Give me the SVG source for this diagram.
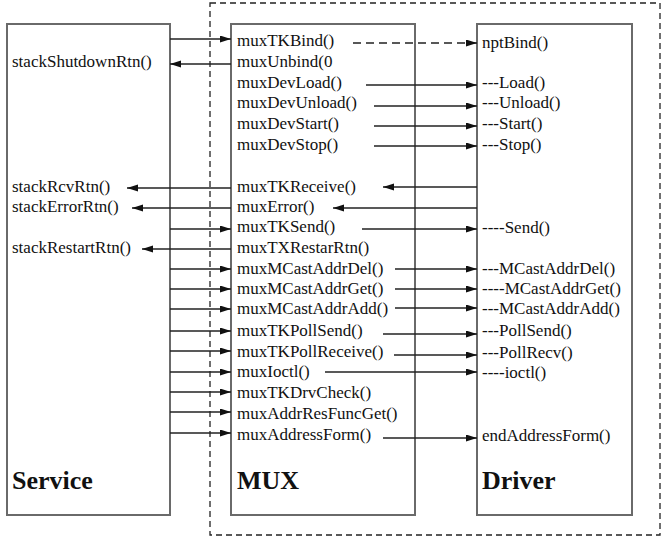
<svg xmlns="http://www.w3.org/2000/svg" width="665" height="544" viewBox="0 0 665 544">
<style>
.box{fill:#fff;stroke:#6a6a6a;stroke-width:2}
.frame{fill:none;stroke:#222;stroke-width:1.3;stroke-dasharray:6,4}
.t{font-family:"Liberation Serif","Times New Roman",serif;font-size:17px;fill:#111}
.b{font-family:"Liberation Serif","Times New Roman",serif;font-size:26px;font-weight:bold;fill:#111}
.c line{stroke:#222;stroke-width:1.3;marker-end:url(#ah)}
.c line.d{stroke-dasharray:8,5}
</style>
<defs>
<marker id="ah" markerUnits="userSpaceOnUse" markerWidth="12" markerHeight="8" refX="11" refY="3.5" orient="auto">
<path d="M0,0 L11,3.5 L0,7 z" fill="#111"/>
</marker>
</defs>
<rect width="665" height="544" fill="#fff"/>
<rect id="frame" class="frame" x="210" y="3" width="450" height="532"/>
<g id="service">
<rect class="box" x="7" y="24" width="163" height="491"/>
<text class="t" x="12" y="67">stackShutdownRtn()</text>
<text class="t" x="12" y="192">stackRcvRtn()</text>
<text class="t" x="12" y="212">stackErrorRtn()</text>
<text class="t" x="12" y="253">stackRestartRtn()</text>
<text class="b" x="12" y="489">Service</text>
</g>
<g id="mux">
<rect class="box" x="231" y="24" width="184" height="491"/>
<text class="t" x="237" y="46">muxTKBind()</text>
<text class="t" x="237" y="67">muxUnbind(0</text>
<text class="t" x="237" y="88">muxDevLoad()</text>
<text class="t" x="237" y="108">muxDevUnload()</text>
<text class="t" x="237" y="129">muxDevStart()</text>
<text class="t" x="237" y="150">muxDevStop()</text>
<text class="t" x="237" y="192">muxTKReceive()</text>
<text class="t" x="237" y="212">muxError()</text>
<text class="t" x="237" y="232">muxTKSend()</text>
<text class="t" x="237" y="253">muxTXRestarRtn()</text>
<text class="t" x="237" y="274">muxMCastAddrDel()</text>
<text class="t" x="237" y="294">muxMCastAddrGet()</text>
<text class="t" x="237" y="314">muxMCastAddrAdd()</text>
<text class="t" x="237" y="336">muxTKPollSend()</text>
<text class="t" x="237" y="357">muxTKPollReceive()</text>
<text class="t" x="237" y="377">muxIoctl()</text>
<text class="t" x="237" y="398">muxTKDrvCheck()</text>
<text class="t" x="237" y="419">muxAddrResFuncGet()</text>
<text class="t" x="237" y="440">muxAddressForm()</text>
<text class="b" x="237" y="489">MUX</text>
</g>
<g id="driver">
<rect class="box" x="477" y="24" width="155" height="491"/>
<text class="t" x="482" y="48">nptBind()</text>
<text class="t" x="482" y="88">---Load()</text>
<text class="t" x="482" y="108">---Unload()</text>
<text class="t" x="482" y="129">---Start()</text>
<text class="t" x="482" y="150">---Stop()</text>
<text class="t" x="482" y="233">----Send()</text>
<text class="t" x="482" y="274">---MCastAddrDel()</text>
<text class="t" x="482" y="294">----MCastAddrGet()</text>
<text class="t" x="482" y="314">---MCastAddrAdd()</text>
<text class="t" x="482" y="336">---PollSend()</text>
<text class="t" x="482" y="358">---PollRecv()</text>
<text class="t" x="482" y="378">----ioctl()</text>
<text class="t" x="482" y="441">endAddressForm()</text>
<text class="b" x="482" y="489">Driver</text>
</g>
<g id="connectors" class="c">
<line x1="170" y1="39" x2="231" y2="39"/>
<line x1="231" y1="64" x2="170" y2="64"/>
<line x1="231" y1="188" x2="127" y2="188"/>
<line x1="231" y1="208" x2="132" y2="208"/>
<line x1="170" y1="229" x2="231" y2="229"/>
<line x1="231" y1="249" x2="142" y2="249"/>
<line x1="170" y1="269" x2="231" y2="269"/>
<line x1="170" y1="289" x2="231" y2="289"/>
<line x1="170" y1="309" x2="231" y2="309"/>
<line x1="170" y1="331" x2="231" y2="331"/>
<line x1="170" y1="351" x2="231" y2="351"/>
<line x1="170" y1="372" x2="231" y2="372"/>
<line x1="170" y1="392" x2="231" y2="392"/>
<line x1="170" y1="412" x2="231" y2="412"/>
<line x1="170" y1="433" x2="231" y2="433"/>
<line class="d" x1="353" y1="43" x2="477" y2="43"/>
<line x1="366" y1="85" x2="477" y2="85"/>
<line x1="374" y1="106" x2="477" y2="106"/>
<line x1="374" y1="126" x2="477" y2="126"/>
<line x1="374" y1="146" x2="477" y2="146"/>
<line x1="477" y1="187" x2="383" y2="187"/>
<line x1="477" y1="208" x2="333" y2="208"/>
<line x1="362" y1="229" x2="477" y2="229"/>
<line x1="395" y1="269" x2="477" y2="269"/>
<line x1="395" y1="289" x2="477" y2="289"/>
<line x1="395" y1="308" x2="477" y2="308"/>
<line x1="383" y1="334" x2="477" y2="334"/>
<line x1="394" y1="355" x2="477" y2="355"/>
<line x1="325" y1="372" x2="477" y2="372"/>
<line x1="383" y1="438" x2="477" y2="438"/>
</g>
</svg>
